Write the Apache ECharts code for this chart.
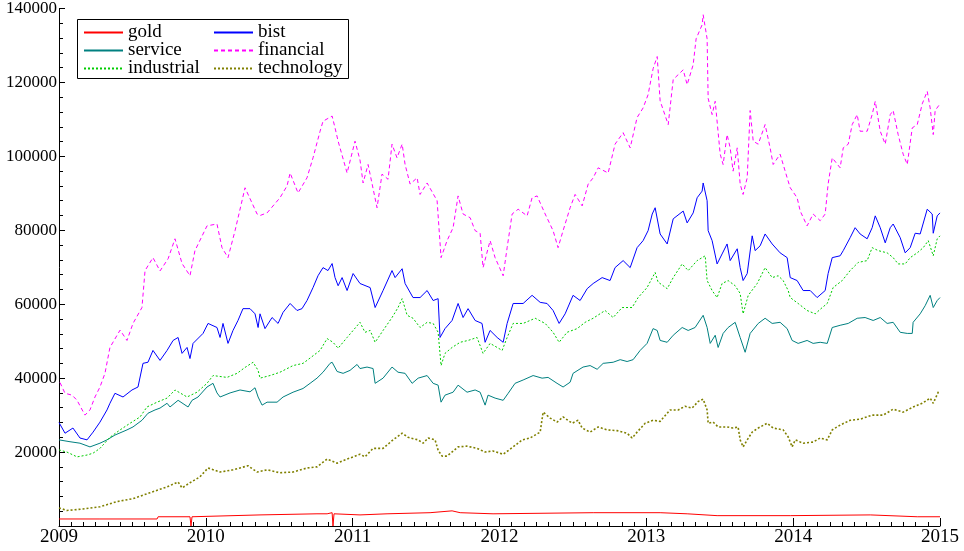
<!DOCTYPE html>
<html><head><meta charset="utf-8">
<script src="https://cdn.jsdelivr.net/npm/echarts@6/dist/echarts.min.js"></script>
<style>html,body{margin:0;padding:0;background:#fff}#c{width:964px;height:551px}</style>
</head><body><div id="c"></div>
<script>
const seriesNames = ['gold','bist','service','financial','industrial','technology'];
const yearTicks = [2009,2010,2011,2012,2013,2014,2015];
const valueTicks = [20000,40000,60000,80000,100000,120000,140000];

const gold = [[2009.000,1900],[2009.279,1900],[2009.668,1900],[2009.675,2500],[2009.892,2500],[2009.899,0],[2009.906,2500],[2010.369,3000],[2010.757,3300],[2010.826,3300],[2010.832,3600],[2010.860,3600],[2010.866,0],[2010.873,3300],[2011.050,3000],[2011.234,3300],[2011.527,3600],[2011.677,4100],[2011.732,3600],[2011.956,3300],[2012.638,3600],[2013.094,3600],[2013.278,3300],[2013.482,2800],[2013.980,2800],[2014.525,3000],[2014.845,2500],[2015.000,2500]];

const bist = [[2009.000,28000],[2009.041,25100],[2009.095,26500],[2009.143,23800],[2009.191,23300],[2009.232,25400],[2009.279,28100],[2009.327,31400],[2009.347,33200],[2009.381,35900],[2009.436,34900],[2009.497,36800],[2009.538,37600],[2009.572,44000],[2009.606,44300],[2009.640,47500],[2009.688,44800],[2009.736,47500],[2009.777,50200],[2009.811,51000],[2009.838,46700],[2009.872,48300],[2009.892,45300],[2009.913,49400],[2009.981,52100],[2010.015,54800],[2010.076,53700],[2010.097,51000],[2010.117,54800],[2010.151,49400],[2010.185,52900],[2010.219,55600],[2010.253,58800],[2010.301,58800],[2010.335,57400],[2010.356,53700],[2010.369,57400],[2010.403,53400],[2010.451,56400],[2010.492,54800],[2010.526,57800],[2010.574,60200],[2010.621,58300],[2010.655,58800],[2010.689,61000],[2010.730,64500],[2010.764,67700],[2010.798,69900],[2010.832,69100],[2010.860,71000],[2010.880,67200],[2010.901,65000],[2010.928,67200],[2010.962,63700],[2011.003,68300],[2011.050,65600],[2011.119,64500],[2011.153,59100],[2011.207,63700],[2011.268,69100],[2011.289,67200],[2011.337,69600],[2011.357,65600],[2011.411,61800],[2011.459,61800],[2011.507,63700],[2011.548,61000],[2011.582,61500],[2011.595,51000],[2011.629,53400],[2011.677,55600],[2011.718,60200],[2011.752,56400],[2011.786,58800],[2011.834,55600],[2011.881,54800],[2011.902,49700],[2011.936,52900],[2011.984,51000],[2012.025,49700],[2012.052,54800],[2012.093,60200],[2012.161,60200],[2012.222,62400],[2012.277,60500],[2012.324,60200],[2012.365,58300],[2012.406,54800],[2012.447,57400],[2012.501,62400],[2012.549,61000],[2012.597,64200],[2012.638,65600],[2012.699,67200],[2012.753,66400],[2012.787,69900],[2012.842,71800],[2012.890,69900],[2012.937,75300],[2012.978,77200],[2013.012,79900],[2013.040,84400],[2013.060,86100],[2013.094,79000],[2013.142,76300],[2013.183,83100],[2013.251,85200],[2013.278,82000],[2013.319,84700],[2013.346,88800],[2013.380,90600],[2013.387,92800],[2013.414,88000],[2013.421,79900],[2013.448,77200],[2013.482,70900],[2013.516,73600],[2013.550,76300],[2013.571,71800],[2013.619,75000],[2013.639,69900],[2013.659,66400],[2013.687,68300],[2013.721,78500],[2013.741,74500],[2013.775,75800],[2013.809,79000],[2013.857,76300],[2013.911,73900],[2013.959,72600],[2013.980,67200],[2014.027,66400],[2014.068,63700],[2014.116,63700],[2014.163,61800],[2014.218,63700],[2014.238,68300],[2014.266,72600],[2014.320,73100],[2014.341,74500],[2014.388,78000],[2014.422,80700],[2014.456,79000],[2014.504,77700],[2014.538,80700],[2014.559,83900],[2014.593,80700],[2014.627,76600],[2014.661,80700],[2014.681,81700],[2014.729,78000],[2014.763,73900],[2014.797,75300],[2014.831,79200],[2014.865,79000],[2014.913,85700],[2014.947,84400],[2014.954,79200],[2014.981,83900],[2015.000,84700]];

const service = [[2009.000,23300],[2009.075,22800],[2009.143,22400],[2009.211,21400],[2009.279,22400],[2009.327,23300],[2009.381,24600],[2009.463,26000],[2009.504,26800],[2009.565,28600],[2009.606,30500],[2009.654,31400],[2009.688,31900],[2009.736,33200],[2009.756,32200],[2009.811,34000],[2009.879,32200],[2009.906,34000],[2009.947,34900],[2010.008,37600],[2010.049,38600],[2010.076,36000],[2010.097,34900],[2010.165,36000],[2010.233,36800],[2010.301,36300],[2010.335,37400],[2010.356,34900],[2010.383,32700],[2010.417,33500],[2010.485,33500],[2010.526,34900],[2010.594,36200],[2010.662,37200],[2010.710,38600],[2010.757,40000],[2010.798,41600],[2010.846,44000],[2010.860,44300],[2010.894,41800],[2010.935,41300],[2010.982,42100],[2011.030,43700],[2011.050,42600],[2011.098,43000],[2011.139,42600],[2011.153,38600],[2011.207,40000],[2011.268,43000],[2011.309,41600],[2011.357,41300],[2011.405,38600],[2011.446,40000],[2011.507,40700],[2011.548,38600],[2011.582,38100],[2011.602,33500],[2011.629,35400],[2011.684,36200],[2011.718,38100],[2011.779,36200],[2011.834,36800],[2011.868,36200],[2011.902,32700],[2011.922,35400],[2011.970,34600],[2012.025,34000],[2012.059,35900],[2012.106,38600],[2012.161,39500],[2012.229,40700],[2012.290,40000],[2012.331,40200],[2012.392,38600],[2012.433,37600],[2012.481,38900],[2012.501,41300],[2012.569,43000],[2012.617,43400],[2012.665,42400],[2012.706,44000],[2012.774,44300],[2012.822,45000],[2012.869,44500],[2012.910,45000],[2012.958,47500],[2013.005,49400],[2013.046,53400],[2013.074,52900],[2013.094,50200],[2013.142,49700],[2013.183,51600],[2013.244,53700],[2013.285,52900],[2013.332,53700],[2013.387,57000],[2013.414,53700],[2013.435,49400],[2013.469,51600],[2013.489,48300],[2013.523,52100],[2013.557,53700],[2013.605,55100],[2013.639,51000],[2013.673,47000],[2013.707,52100],[2013.762,54800],[2013.809,56200],[2013.857,54800],[2013.911,55100],[2013.959,53400],[2013.993,50200],[2014.034,49400],[2014.095,50200],[2014.136,49400],[2014.184,49700],[2014.232,49400],[2014.266,53700],[2014.320,54300],[2014.375,54800],[2014.436,56200],[2014.490,56400],[2014.545,55600],[2014.593,56400],[2014.640,54800],[2014.681,55100],[2014.729,52400],[2014.777,52100],[2014.811,52100],[2014.817,55100],[2014.865,57400],[2014.899,59600],[2014.933,62400],[2014.954,59100],[2014.981,61000],[2015.000,61800]];

const financial = [[2009.007,38800],[2009.041,35900],[2009.089,35400],[2009.123,34000],[2009.177,30000],[2009.211,31400],[2009.245,34900],[2009.279,37600],[2009.313,41300],[2009.347,48300],[2009.416,53000],[2009.463,50200],[2009.504,54800],[2009.565,59100],[2009.586,69100],[2009.640,72600],[2009.688,69000],[2009.743,72300],[2009.790,77700],[2009.838,71000],[2009.892,67700],[2009.926,74500],[2010.008,81200],[2010.076,81700],[2010.110,75300],[2010.151,72600],[2010.199,79900],[2010.267,91500],[2010.349,84400],[2010.369,84000],[2010.417,84700],[2010.505,88800],[2010.553,92000],[2010.574,95500],[2010.628,90100],[2010.689,94200],[2010.730,99600],[2010.778,106800],[2010.798,109500],[2010.860,110900],[2010.880,107700],[2010.901,104100],[2010.962,95500],[2011.016,104100],[2011.050,99000],[2011.071,92800],[2011.105,97800],[2011.166,86100],[2011.200,95200],[2011.241,93800],[2011.268,103300],[2011.302,99600],[2011.337,103300],[2011.357,97800],[2011.391,92500],[2011.439,94200],[2011.459,89700],[2011.507,92800],[2011.575,88000],[2011.602,72600],[2011.643,77200],[2011.684,80700],[2011.718,89300],[2011.752,84400],[2011.800,83400],[2011.834,79900],[2011.868,79200],[2011.888,69900],[2011.936,77200],[2011.970,72600],[2012.025,67700],[2012.052,75300],[2012.086,84400],[2012.127,85700],[2012.188,83900],[2012.222,88800],[2012.256,89300],[2012.311,84400],[2012.365,79900],[2012.399,75300],[2012.433,79900],[2012.481,86100],[2012.515,89700],[2012.563,86600],[2012.604,92500],[2012.638,94200],[2012.672,96900],[2012.740,95500],[2012.787,103300],[2012.842,106400],[2012.890,102300],[2012.937,110500],[2012.978,113100],[2013.012,116700],[2013.046,123700],[2013.074,127000],[2013.094,115000],[2013.149,108600],[2013.183,120800],[2013.251,123400],[2013.278,119400],[2013.319,124800],[2013.339,131800],[2013.380,135600],[2013.387,138300],[2013.414,131800],[2013.421,115700],[2013.448,111300],[2013.469,114900],[2013.503,100600],[2013.523,97800],[2013.550,105900],[2013.571,102300],[2013.591,96000],[2013.619,102300],[2013.639,92500],[2013.659,89700],[2013.687,94200],[2013.707,112400],[2013.728,104100],[2013.762,103300],[2013.809,108600],[2013.843,102300],[2013.864,97800],[2013.911,100600],[2013.959,94200],[2013.980,91500],[2014.027,88800],[2014.048,85200],[2014.095,81200],[2014.136,84400],[2014.184,82600],[2014.218,84400],[2014.238,92500],[2014.266,99600],[2014.320,96900],[2014.341,102300],[2014.375,103300],[2014.402,108600],[2014.436,111300],[2014.456,106800],[2014.504,106800],[2014.538,111300],[2014.559,114900],[2014.593,106800],[2014.627,103300],[2014.661,111300],[2014.681,112400],[2014.715,105900],[2014.749,100600],[2014.777,97800],[2014.811,107700],[2014.845,108600],[2014.879,114200],[2014.913,117600],[2014.933,113100],[2014.954,105900],[2014.967,112400],[2015.000,114200]];

const industrial = [[2009.000,20600],[2009.054,20000],[2009.123,18700],[2009.191,19200],[2009.232,19700],[2009.279,21000],[2009.347,24000],[2009.416,26000],[2009.484,27800],[2009.552,29500],[2009.599,32200],[2009.668,33500],[2009.736,34600],[2009.790,36800],[2009.872,34900],[2009.940,36200],[2010.008,38600],[2010.049,40700],[2010.144,40200],[2010.213,41300],[2010.267,42900],[2010.322,44300],[2010.356,42100],[2010.369,40000],[2010.437,40700],[2010.505,41600],[2010.594,43400],[2010.662,44000],[2010.689,44800],[2010.778,47500],[2010.826,50700],[2010.866,49700],[2010.901,48100],[2010.962,51000],[2011.003,52900],[2011.050,55100],[2011.084,52400],[2011.119,52900],[2011.153,49700],[2011.207,52900],[2011.268,56400],[2011.309,59100],[2011.337,61500],[2011.371,57000],[2011.411,56200],[2011.459,53700],[2011.507,55100],[2011.548,54800],[2011.582,52400],[2011.602,43400],[2011.629,46700],[2011.677,48300],[2011.732,49700],[2011.786,50200],[2011.847,51000],[2011.888,46700],[2011.936,49400],[2011.984,48300],[2012.018,47500],[2012.052,51000],[2012.093,54800],[2012.161,54800],[2012.243,56200],[2012.311,54800],[2012.365,52400],[2012.406,49700],[2012.460,52400],[2012.529,53400],[2012.583,55100],[2012.638,56200],[2012.719,58300],[2012.774,56400],[2012.835,59100],[2012.903,59100],[2012.944,61800],[2013.005,64500],[2013.060,68600],[2013.080,66000],[2013.142,64200],[2013.183,67200],[2013.244,70900],[2013.285,69100],[2013.346,71800],[2013.401,73100],[2013.414,66400],[2013.448,63700],[2013.482,61800],[2013.516,65600],[2013.557,66400],[2013.605,65000],[2013.639,62900],[2013.659,57400],[2013.694,62400],[2013.755,65600],[2013.809,69900],[2013.857,67200],[2013.898,67700],[2013.932,66400],[2013.966,63700],[2013.980,61800],[2014.034,60200],[2014.095,58300],[2014.150,57400],[2014.198,59100],[2014.232,60200],[2014.272,64500],[2014.334,66400],[2014.388,69100],[2014.443,71300],[2014.504,71800],[2014.538,75300],[2014.579,74500],[2014.640,73900],[2014.681,72600],[2014.715,70900],[2014.763,70900],[2014.797,72600],[2014.845,73900],[2014.886,75300],[2014.920,77200],[2014.954,73100],[2014.981,77700],[2015.000,78500]];

const technology = [[2009.000,4900],[2009.054,4200],[2009.163,4600],[2009.279,5200],[2009.395,6600],[2009.504,7400],[2009.620,9000],[2009.736,10600],[2009.811,11900],[2009.838,10300],[2009.892,11700],[2009.960,13300],[2010.015,15700],[2010.097,14600],[2010.185,15200],[2010.287,16300],[2010.349,14600],[2010.417,15200],[2010.505,14400],[2010.594,14600],[2010.689,15700],[2010.757,16000],[2010.826,18100],[2010.894,17000],[2010.962,18100],[2011.050,19400],[2011.084,18700],[2011.139,21000],[2011.207,21000],[2011.275,23300],[2011.337,25100],[2011.377,24000],[2011.446,23300],[2011.480,22400],[2011.514,23800],[2011.561,23300],[2011.582,20500],[2011.609,18900],[2011.643,18900],[2011.718,21400],[2011.779,21600],[2011.847,21000],[2011.902,20000],[2011.956,20300],[2012.025,19400],[2012.093,21400],[2012.154,23300],[2012.208,23800],[2012.277,25400],[2012.297,30800],[2012.345,29200],[2012.392,28100],[2012.433,29500],[2012.495,27800],[2012.535,28600],[2012.563,26500],[2012.617,25400],[2012.672,26800],[2012.733,26000],[2012.801,25800],[2012.869,25100],[2012.903,23800],[2012.937,25400],[2012.992,27800],[2013.046,28600],[2013.094,28300],[2013.162,31400],[2013.217,31400],[2013.264,32400],[2013.312,31900],[2013.353,33700],[2013.387,34300],[2013.414,31400],[2013.421,27800],[2013.455,28100],[2013.489,26800],[2013.550,26800],[2013.591,26500],[2013.625,26800],[2013.639,23300],[2013.659,21400],[2013.687,23300],[2013.721,25400],[2013.762,26500],[2013.823,27800],[2013.864,26500],[2013.932,26000],[2013.966,24100],[2013.993,21400],[2014.014,23300],[2014.068,22400],[2014.136,22700],[2014.184,23800],[2014.232,23300],[2014.266,26000],[2014.320,27300],[2014.388,28600],[2014.456,28900],[2014.538,30000],[2014.613,30000],[2014.681,31600],[2014.749,30800],[2014.817,32200],[2014.879,33200],[2014.933,34600],[2014.954,33200],[2014.988,36200],[2015.000,36600]];

const chart = echarts.init(document.getElementById('c'), null, {renderer: 'canvas'});
const FONT = 'Liberation Serif';
function mk(name, data, color, type, width) {
  return {name: name, type: 'line', data: data, symbol: 'none', showSymbol: false,
    lineStyle: {color: color, width: width, type: type}, itemStyle: {color: color},
    emphasis: {disabled: true}, silent: true};
}
const legendBase = {orient: 'vertical', top: 23, padding: 0,
  itemWidth: 39, itemHeight: 14, itemGap: -1, selectedMode: false,
  itemStyle: {opacity: 0},
  textStyle: {fontFamily: FONT, fontSize: 19, color: '#000', padding: 0}};
chart.setOption({
  animation: false,
  backgroundColor: '#ffffff',
  grid: {left: 59, right: 24, top: 7, bottom: 25, containLabel: false},
  xAxis: {
    type: 'value', min: yearTicks[0], max: yearTicks[yearTicks.length - 1], interval: 1,
    axisLine: {lineStyle: {color: '#000', width: 1}},
    axisTick: {inside: true, length: 8, lineStyle: {color: '#000'}},
    minorTick: {show: true, splitNumber: 12, length: 4, lineStyle: {color: '#000'}},
    splitLine: {show: false},
    axisLabel: {color: '#000', fontFamily: FONT, fontSize: 19, margin: 2,
      formatter: v => yearTicks.indexOf(v) >= 0 ? String(v) : ''}
  },
  yAxis: {
    type: 'value', min: 0, max: 140000, interval: 20000,
    axisLine: {show: true, lineStyle: {color: '#000', width: 1}},
    axisTick: {show: true, inside: true, length: 6, lineStyle: {color: '#000'}},
    minorTick: {show: true, splitNumber: 5, length: 4, lineStyle: {color: '#000'}},
    splitLine: {show: false},
    axisLabel: {color: '#000', fontFamily: FONT, fontSize: 17, margin: 2,
      formatter: v => valueTicks.indexOf(v) >= 0 ? String(v) : ''}
  },
  legend: [
    Object.assign({}, legendBase, {data: ['gold', 'service', 'industrial'], left: 83}),
    Object.assign({}, legendBase, {data: ['bist', 'financial', 'technology'], left: 213})
  ],
  graphic: [{type: 'rect', left: 77, top: 19, z: -1,
    shape: {width: 271, height: 59}, style: {fill: '#fff', stroke: '#000', lineWidth: 1}}],
  series: [
    mk(seriesNames[0], gold, '#ff0000', 'solid', 1),
    mk(seriesNames[1], bist, '#0000ff', 'solid', 1),
    mk(seriesNames[2], service, '#008080', 'solid', 1),
    mk(seriesNames[3], financial, '#ff00ff', [4, 3], 1),
    mk(seriesNames[4], industrial, '#00cc00', [2, 2], 1),
    mk(seriesNames[5], technology, '#808000', [2, 2], 1.6)
  ]
});
</script></body></html>
